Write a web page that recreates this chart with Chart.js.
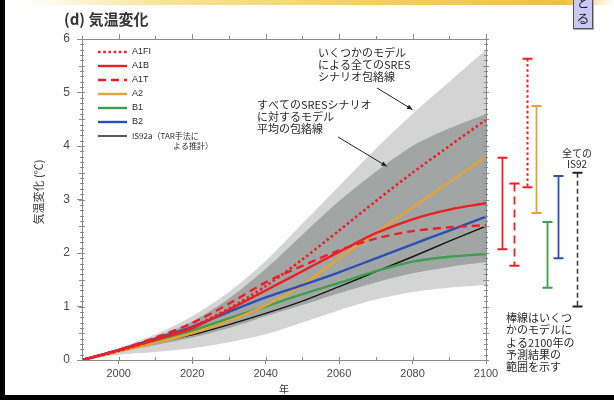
<!DOCTYPE html>
<html>
<head>
<meta charset="utf-8">
<script src="https://cdn.jsdelivr.net/npm/chart.js@4.4.1/dist/chart.umd.min.js"></script>
<style>
  html, body { margin: 0; padding: 0; background: #fff; }
  #wrap { position: relative; width: 614px; height: 400px; overflow: hidden; background: #fff; }
  #c { position: absolute; left: 0; top: 0; }
  #topband { position: absolute; left: 0; top: 0; width: 614px; height: 5px;
    background: linear-gradient(to right, rgba(255,255,255,0) 4%, #f8e59a 25%, #f4d060 60%, #efc040 92%, rgba(255,255,255,0) 100%); }
  #lborder { position: absolute; left: 0; top: 0; width: 5px; height: 400px; background: #000; }
  #bborder { position: absolute; left: 0; top: 395px; width: 614px; height: 5px; background: #000; }
  #tab { position: absolute; left: 573px; top: -7px; width: 18px; height: 34px; background: #c9c9f3;
    border: 1px solid #555; box-shadow: 1px 1px 0 #aaa;
    font: 13px "Noto Sans CJK JP", sans-serif; line-height: 16px; text-align: center; color: #222; }
</style>
</head>
<body>
<div id="wrap">
  <canvas id="c" width="614" height="400"></canvas>
  <div id="topband"></div>
  <div id="lborder"></div>
  <div id="bborder"></div>
  <div id="tab">と<br>る</div>
</div>
<script>
// Global mean temperature change relative to 1990 (°C)
const years  = [1990, 2000, 2010, 2020, 2030, 2040, 2050, 2060, 2070, 2080, 2090, 2100];
const a1fi   = [0, 0.17, 0.38, 0.62, 0.96, 1.38, 1.88, 2.42, 2.97, 3.50, 4.00, 4.49];
const a1b    = [0, 0.18, 0.38, 0.59, 0.94, 1.30, 1.66, 2.02, 2.37, 2.63, 2.81, 2.93];
const a1t    = [0, 0.19, 0.42, 0.69, 1.05, 1.45, 1.76, 2.05, 2.27, 2.41, 2.48, 2.52];
const a2     = [0, 0.16, 0.32, 0.50, 0.73, 1.02, 1.40, 1.90, 2.38, 2.85, 3.32, 3.80];
const b1     = [0, 0.18, 0.36, 0.55, 0.78, 1.00, 1.23, 1.44, 1.66, 1.84, 1.93, 1.98];
const b2     = [0, 0.19, 0.40, 0.62, 0.90, 1.17, 1.40, 1.64, 1.90, 2.16, 2.42, 2.68];
const is92a  = [0, 0.17, 0.33, 0.47, 0.66, 0.87, 1.10, 1.37, 1.65, 1.93, 2.22, 2.50];

// Envelopes: all SRES scenarios with several models (light), model averages (dark)
const envAllHigh  = [0, 0.22, 0.48, 0.82, 1.27, 1.85, 2.55, 3.25, 3.95, 4.60, 5.20, 5.80];
const envAllLow   = [0, 0.10, 0.15, 0.22, 0.33, 0.48, 0.70, 0.93, 1.13, 1.27, 1.35, 1.40];
const envMeanHigh = [0, 0.20, 0.43, 0.72, 1.15, 1.70, 2.34, 2.97, 3.52, 4.00, 4.33, 4.60];
const envMeanLow  = [0, 0.15, 0.28, 0.42, 0.60, 0.82, 1.03, 1.25, 1.45, 1.62, 1.74, 1.83];

// Range of 2100 results across models
const rangeNames = ['A1B', 'A1T', 'A1FI', 'A2', 'B1', 'B2', 'IS92'];
const rangeLow   = [2.07, 1.76, 3.23, 2.75, 1.35, 1.90, 1.00];
const rangeHigh  = [3.78, 3.30, 5.63, 4.75, 2.58, 3.44, 3.50];

const xTicks = [2000, 2020, 2040, 2060, 2080, 2100];

const COL = {
  red: '#ee1f23', orange: '#e2a535', green: '#3c9f4d', blue: '#2c4fb6', black: '#161616',
  light: '#d4d4d4', dark: '#a1a6a4', axis: '#8a8a8a', text: '#2a2a2a', tick: '#4a4a4a'
};
const JP = '"Noto Sans CJK JP", "Noto Sans", sans-serif';
const LAT = '"Liberation Sans", Arial, sans-serif';

const pts = arr => years.map((yr, i) => ({ x: yr, y: arr[i] }));

const lineStyle = {
  A1FI: { color: COL.red, dash: [2.6, 2.6], width: 2.6 },
  A1B:  { color: COL.red, dash: [], width: 2.4 },
  A1T:  { color: COL.red, dash: [8, 5], width: 2.4 },
  A2:   { color: COL.orange, dash: [], width: 2.4 },
  B1:   { color: COL.green, dash: [], width: 2.4 },
  B2:   { color: COL.blue, dash: [], width: 2.4 },
  IS92: { color: COL.black, dash: [], width: 1.4 }
};

function lineSet(label, arr, st, order) {
  return {
    label, data: pts(arr), borderColor: st.color, borderDash: st.dash, borderWidth: st.width,
    pointRadius: 0, fill: false, tension: 0.3, order
  };
}
function bandSet(label, arr, fill, color, order) {
  return {
    label, data: pts(arr), borderColor: 'rgba(0,0,0,0)', borderWidth: 0, pointRadius: 0,
    fill, backgroundColor: color, tension: 0.3, order
  };
}

const datasets = [
  lineSet('A1FI', a1fi, lineStyle.A1FI, 1),
  lineSet('A1B', a1b, lineStyle.A1B, 1),
  lineSet('A1T', a1t, lineStyle.A1T, 1),
  lineSet('A2', a2, lineStyle.A2, 2),
  lineSet('B1', b1, lineStyle.B1, 2),
  lineSet('B2', b2, lineStyle.B2, 1),
  lineSet('IS92a', is92a, lineStyle.IS92, 3),
  bandSet('meanHigh', envMeanHigh, '+1', COL.dark, 8),
  bandSet('meanLow', envMeanLow, false, 'rgba(0,0,0,0)', 8),
  bandSet('allHigh', envAllHigh, '+1', COL.light, 9),
  bandSet('allLow', envAllLow, false, 'rgba(0,0,0,0)', 9)
];

const legendRows = [
  { text: 'A1FI', st: lineStyle.A1FI },
  { text: 'A1B', st: lineStyle.A1B },
  { text: 'A1T', st: lineStyle.A1T },
  { text: 'A2', st: lineStyle.A2 },
  { text: 'B1', st: lineStyle.B1 },
  { text: 'B2', st: lineStyle.B2 },
  { text: 'IS92a（TAR手法に', st: lineStyle.IS92, extra: 'よる推計）' }
];

// horizontal offsets of the range bars to the right of the plot
const barOffsets = [16, 28, 41, 50, 61, 72, 91];
const barStyles = [lineStyle.A1B, lineStyle.A1T, lineStyle.A1FI, lineStyle.A2, lineStyle.B1, lineStyle.B2,
  { color: '#3a3a3a', dash: [5, 3], width: 1.6 }];

function arrow(ctx, x0, y0, x1, y1) {
  ctx.beginPath();
  ctx.moveTo(x0, y0); ctx.lineTo(x1, y1); ctx.stroke();
  const ang = Math.atan2(y1 - y0, x1 - x0), L = 6;
  ctx.beginPath();
  ctx.moveTo(x1, y1);
  ctx.lineTo(x1 - L * Math.cos(ang - 0.4), y1 - L * Math.sin(ang - 0.4));
  ctx.lineTo(x1 - L * Math.cos(ang + 0.4), y1 - L * Math.sin(ang + 0.4));
  ctx.closePath(); ctx.fill();
}

const decor = {
  id: 'decor',
  afterDraw(chart) {
    const { ctx, chartArea: a, scales: { x, y } } = chart;
    ctx.save();

    // top and right frame with tick marks
    ctx.strokeStyle = COL.axis; ctx.lineWidth = 1;
    ctx.beginPath();
    ctx.moveTo(a.left, a.top + 0.5); ctx.lineTo(a.right, a.top + 0.5);
    ctx.moveTo(a.right + 0.5, a.top); ctx.lineTo(a.right + 0.5, a.bottom);
    for (let yr = 1990; yr <= 2100; yr += 10) {
      const px = Math.round(x.getPixelForValue(yr)) + 0.5;
      ctx.moveTo(px, a.top); ctx.lineTo(px, a.top - (yr % 20 === 0 ? 5 : 3));
      ctx.moveTo(px, a.bottom); ctx.lineTo(px, a.bottom - 3);
    }
    for (let k = 0; k <= 60; k++) {
      const py = Math.round(y.getPixelForValue(k / 10)) + 0.5;
      const L = k % 5 === 0 ? 3 : 2;
      ctx.moveTo(a.left - L, py); ctx.lineTo(a.left + L, py);
      ctx.moveTo(a.right - L, py); ctx.lineTo(a.right + L, py);
    }
    ctx.stroke();

    // legend
    ctx.textBaseline = 'middle';
    legendRows.forEach((r, i) => {
      const yy = 52 + i * 14;
      ctx.strokeStyle = r.st.color; ctx.lineWidth = r.st.width; ctx.setLineDash(r.st.dash);
      ctx.beginPath(); ctx.moveTo(98, yy); ctx.lineTo(127, yy); ctx.stroke();
      ctx.setLineDash([]);
      ctx.fillStyle = COL.text;
      ctx.font = (r.extra ? '8px ' : '9px ') + (r.extra ? JP : LAT);
      ctx.textAlign = 'left';
      ctx.fillText(r.text, 132, yy);
      if (r.extra) { ctx.textAlign = 'right'; ctx.fillText(r.extra, 213, yy + 10); }
    });

    // model range bars for 2100
    rangeNames.forEach((n, i) => {
      const st = barStyles[i];
      const bx = Math.round(a.right + barOffsets[i]) + 0.5;
      const yTop = y.getPixelForValue(rangeHigh[i]);
      const yBot = y.getPixelForValue(rangeLow[i]);
      ctx.strokeStyle = st.color; ctx.lineWidth = Math.max(st.width - 0.6, 1.6);
      ctx.setLineDash(st.dash);
      ctx.beginPath(); ctx.moveTo(bx, yTop); ctx.lineTo(bx, yBot); ctx.stroke();
      ctx.setLineDash([]);
      ctx.strokeStyle = i === 6 ? '#222' : st.color; ctx.lineWidth = 2;
      ctx.beginPath();
      ctx.moveTo(bx - 5, yTop); ctx.lineTo(bx + 5, yTop);
      ctx.moveTo(bx - 5, yBot); ctx.lineTo(bx + 5, yBot);
      ctx.stroke();
    });

    ctx.fillStyle = COL.text; ctx.textAlign = 'center'; ctx.textBaseline = 'middle';
    ctx.font = '10px ' + JP;
    const isx = a.right + barOffsets[6];
    const isy = y.getPixelForValue(rangeHigh[6]);
    ctx.fillText('全ての', isx, isy - 20);
    ctx.fillText('IS92', isx, isy - 9);

    ctx.textAlign = 'left';
    ctx.font = '11px ' + JP;
    ['棒線はいくつ', 'かのモデルに', 'よる2100年の', '予測結果の', '範囲を示す']
      .forEach((t, i) => ctx.fillText(t, a.right + 20, 318 + i * 12.3));

    // envelope annotations
    ctx.font = '11px ' + JP;
    ['いくつかのモデル', 'による全てのSRES', 'シナリオ包絡線']
      .forEach((t, i) => ctx.fillText(t, 318, 53 + i * 12));
    ['すべてのSRESシナリオ', 'に対するモデル', '平均の包絡線']
      .forEach((t, i) => ctx.fillText(t, 257, 105 + i * 12));
    ctx.strokeStyle = '#222'; ctx.fillStyle = '#222'; ctx.lineWidth = 1;
    arrow(ctx, 377, 88, x.getPixelForValue(2080), y.getPixelForValue(4.68));
    arrow(ctx, 338, 137, x.getPixelForValue(2073), y.getPixelForValue(3.62));

    // title and axis titles
    ctx.fillStyle = '#333';
    ctx.textAlign = 'left';
    ctx.font = 'bold 15px ' + JP;
    ctx.fillText('(d) 気温変化', 64, 19);

    ctx.font = '10px ' + JP;
    ctx.textAlign = 'center';
    ctx.fillText('年', (a.left + a.right) / 2, 389);
    ctx.save();
    ctx.translate(39, 192);
    ctx.rotate(-Math.PI / 2);
    ctx.font = '11px ' + JP;
    ctx.fillText('気温変化 (℃)', 0, 0);
    ctx.restore();

    ctx.restore();
  }
};

function build() {
  new Chart(document.getElementById('c'), {
    type: 'line',
    data: { datasets },
    plugins: [decor],
    options: {
      responsive: false,
      animation: false,
      devicePixelRatio: 1,
      layout: { padding: { left: 0, top: 39, right: 128, bottom: 0 } },
      plugins: { legend: { display: false }, tooltip: { enabled: false } },
      scales: {
        x: {
          type: 'linear', min: 1990, max: 2100,
          afterBuildTicks: s => { s.ticks = xTicks.map(v => ({ value: v })); },
          ticks: { autoSkip: false, maxRotation: 0, color: COL.tick, padding: 3,
            font: { family: LAT, size: 11 }, callback: v => String(v) },
          grid: { drawOnChartArea: false, tickLength: 4, color: COL.axis },
          border: { color: COL.axis, width: 1 },
          afterFit: s => { s.height = 40; }
        },
        y: {
          min: 0, max: 6,
          ticks: { stepSize: 1, color: COL.tick, padding: 7, font: { family: LAT, size: 12 } },
          grid: { drawOnChartArea: false, tickLength: 5, color: COL.axis },
          border: { color: COL.axis, width: 1 },
          afterFit: s => { s.width = 82; }
        }
      }
    }
  });
}

Promise.all([
  document.fonts.load('11px "Noto Sans CJK JP"'),
  document.fonts.load('bold 15px "Noto Sans CJK JP"'),
  document.fonts.load('11px "Liberation Sans"')
]).catch(() => {}).then(build);
</script>
</body>
</html>
